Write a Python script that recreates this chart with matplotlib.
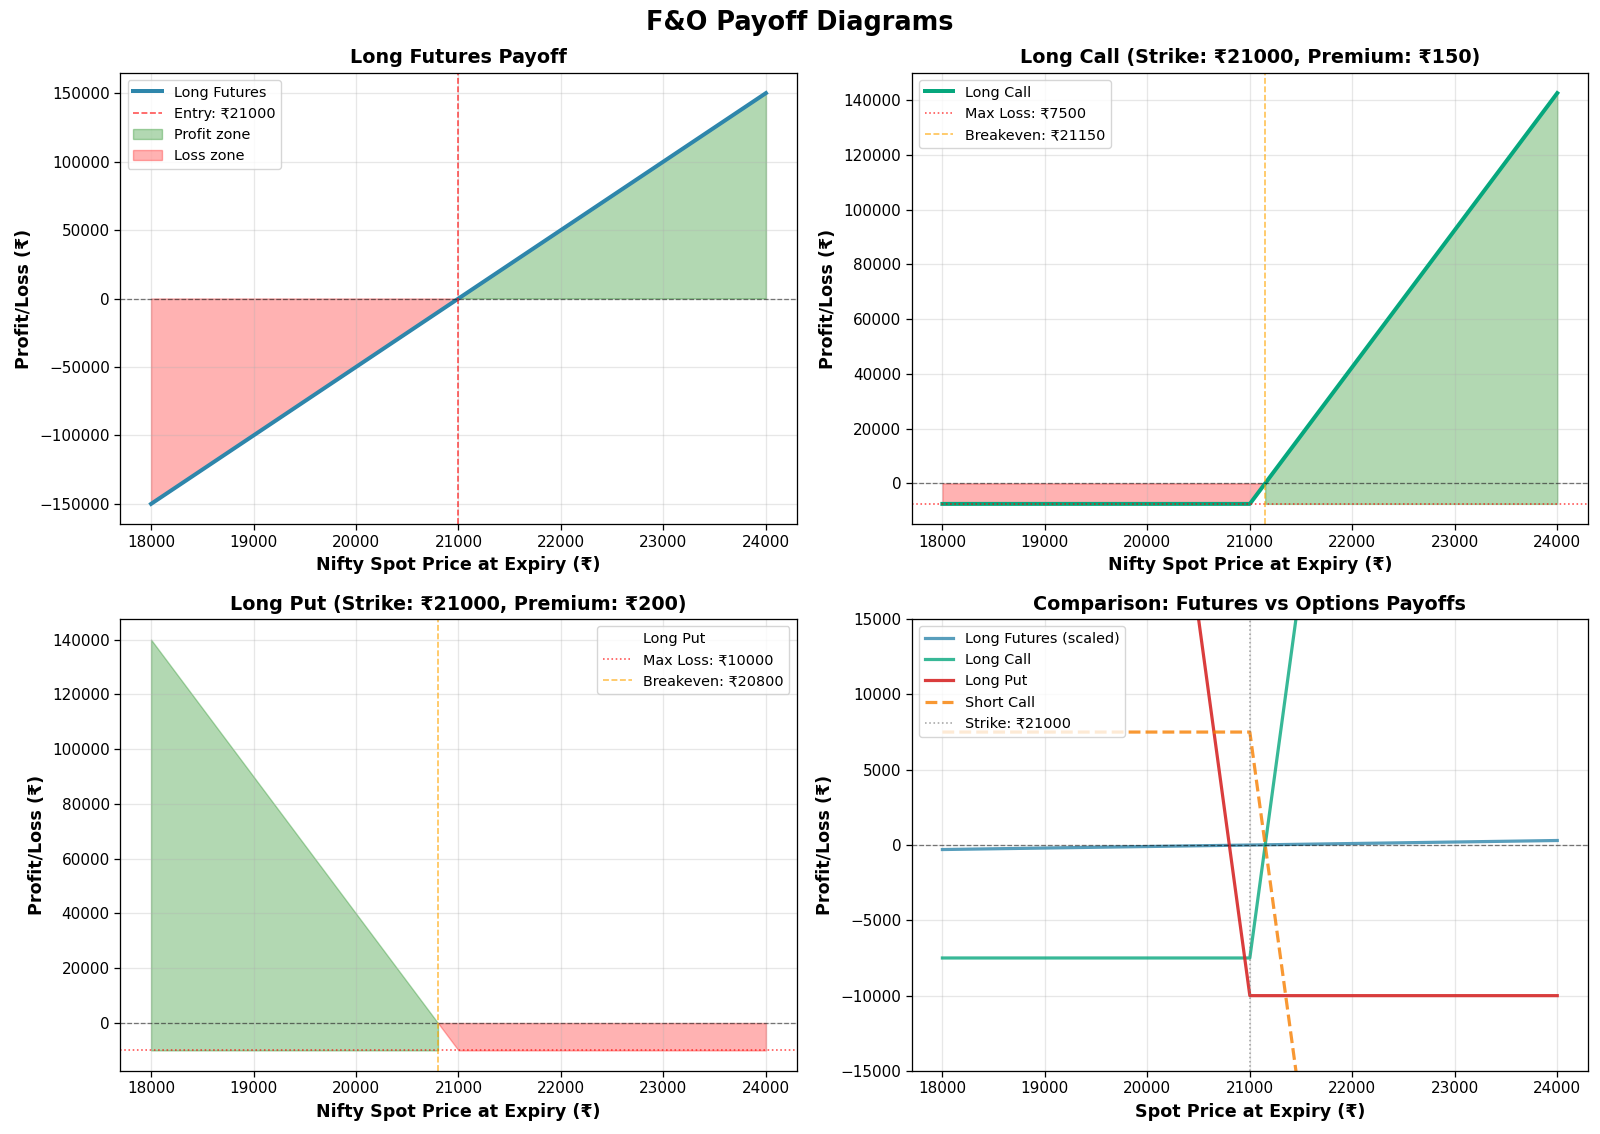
import numpy as np
import matplotlib
matplotlib.use('Agg')
import matplotlib.pyplot as plt

# payoff knots (Nifty lot size 50, strike 21000)
spot = [18000, 20800, 21000, 21150, 24000]
futures_pnl = [-150000, -10000, 0, 7500, 150000]
call_pnl = [-7500, -7500, -7500, 0, 142500]
put_pnl = [140000, 0, -10000, -10000, -10000]
short_call_pnl = [7500, 7500, 7500, 0, -142500]
futures_scaled = [-300, -20, 0, 15, 300]

strike = 21000
call_max_loss = 7500
call_breakeven = 21150
put_max_loss = 10000
put_breakeven = 20800

S = np.array(spot)
fut = np.array(futures_pnl)
call = np.array(call_pnl)
put = np.array(put_pnl)

k = 1.15  # overall scale of text / lines
plt.rcParams['xtick.labelsize'] = 11
plt.rcParams['ytick.labelsize'] = 11
plt.rcParams['legend.fontsize'] = 9 * k
plt.rcParams['axes.linewidth'] = 0.8 * k
plt.rcParams['xtick.major.width'] = 0.8 * k
plt.rcParams['ytick.major.width'] = 0.8 * k
plt.rcParams['xtick.major.size'] = 3.5 * k
plt.rcParams['ytick.major.size'] = 3.5 * k
plt.rcParams['grid.linewidth'] = 0.8 * k
plt.rcParams['axes.labelpad'] = 4 * k
plt.rcParams['axes.titlepad'] = 6 * k

title_kw = dict(fontsize=12 * k, fontweight='bold')
label_kw = dict(fontsize=11 * k, fontweight='bold')

fig, axes = plt.subplots(2, 2, figsize=(16, 11.34), dpi=100)
fig.suptitle('F&O Payoff Diagrams', fontsize=16 * k, fontweight='bold', y=0.991)

# Long futures
ax = axes[0, 0]
ax.plot(S, fut, color='#2E86AB', linewidth=2.5 * k, label='Long Futures')
ax.axhline(0, color='black', linestyle='--', alpha=0.5, linewidth=0.8 * k)
ax.axvline(strike, color='red', linestyle='--', alpha=0.7, linewidth=1 * k, label='Entry: ₹21000')
ax.fill_between(S, fut, 0, where=fut >= 0, color='green', alpha=0.3, label='Profit zone')
ax.fill_between(S, fut, 0, where=fut <= 0, color='red', alpha=0.3, label='Loss zone')
ax.set_title('Long Futures Payoff', **title_kw)
ax.set_xlabel('Nifty Spot Price at Expiry (₹)', **label_kw)
ax.set_ylabel('Profit/Loss (₹)', **label_kw)
ax.legend(loc='upper left')
ax.grid(True, alpha=0.3)

# Long call
ax = axes[0, 1]
ax.plot(S, call, color='#06A77D', linewidth=2.5 * k, label='Long Call')
ax.axhline(0, color='black', linestyle='--', alpha=0.5, linewidth=0.8 * k)
ax.axhline(-call_max_loss, color='red', linestyle=':', alpha=0.7, linewidth=1 * k, label='Max Loss: ₹7500')
ax.axvline(call_breakeven, color='orange', linestyle='--', alpha=0.7, linewidth=1 * k, label='Breakeven: ₹21150')
ax.fill_between(S, call, -call_max_loss, where=call >= 0, color='green', alpha=0.3)
ax.fill_between(S, call, 0, where=call <= 0, color='red', alpha=0.3)
ax.set_title('Long Call (Strike: ₹21000, Premium: ₹150)', **title_kw)
ax.set_xlabel('Nifty Spot Price at Expiry (₹)', **label_kw)
ax.set_ylabel('Profit/Loss (₹)', **label_kw)
ax.legend(loc='upper left')
ax.grid(True, alpha=0.3)

# Long put
ax = axes[1, 0]
ax.plot(S, put, color='none', linewidth=2.5 * k, label='Long Put')
ax.axhline(0, color='black', linestyle='--', alpha=0.5, linewidth=0.8 * k)
ax.axhline(-put_max_loss, color='red', linestyle=':', alpha=0.7, linewidth=1 * k, label='Max Loss: ₹10000')
ax.axvline(put_breakeven, color='orange', linestyle='--', alpha=0.7, linewidth=1 * k, label='Breakeven: ₹20800')
ax.fill_between(S, put, -put_max_loss, where=put >= 0, color='green', alpha=0.3)
ax.fill_between(S, put, 0, where=put <= 0, color='red', alpha=0.3)
ax.set_title('Long Put (Strike: ₹21000, Premium: ₹200)', **title_kw)
ax.set_xlabel('Nifty Spot Price at Expiry (₹)', **label_kw)
ax.set_ylabel('Profit/Loss (₹)', **label_kw)
ax.legend(loc='upper right')
ax.grid(True, alpha=0.3)

# Comparison
ax = axes[1, 1]
ax.plot(S, futures_scaled, color='#2E86AB', linewidth=2 * k, alpha=0.8, label='Long Futures (scaled)')
ax.plot(S, call_pnl, color='#06A77D', linewidth=2 * k, alpha=0.8, label='Long Call')
ax.plot(S, put_pnl, color='#D62828', linewidth=2 * k, alpha=0.9, label='Long Put')
ax.plot(S, short_call_pnl, color='#F77F00', linewidth=2 * k, linestyle='--', alpha=0.8, label='Short Call')
ax.axhline(0, color='black', linestyle='--', alpha=0.5, linewidth=0.8 * k)
ax.axvline(strike, color='gray', linestyle=':', alpha=0.7, linewidth=1 * k, label='Strike: ₹21000')
ax.set_ylim(-15000, 15000)
ax.set_title('Comparison: Futures vs Options Payoffs', **title_kw)
ax.set_xlabel('Spot Price at Expiry (₹)', **label_kw)
ax.set_ylabel('Profit/Loss (₹)', **label_kw)
ax.legend(loc='upper left')
ax.grid(True, alpha=0.3)

plt.subplots_adjust(left=0.0752, right=0.9925, top=0.936, bottom=0.0556, wspace=0.170, hspace=0.2095)
plt.savefig('out.png', dpi=100)
